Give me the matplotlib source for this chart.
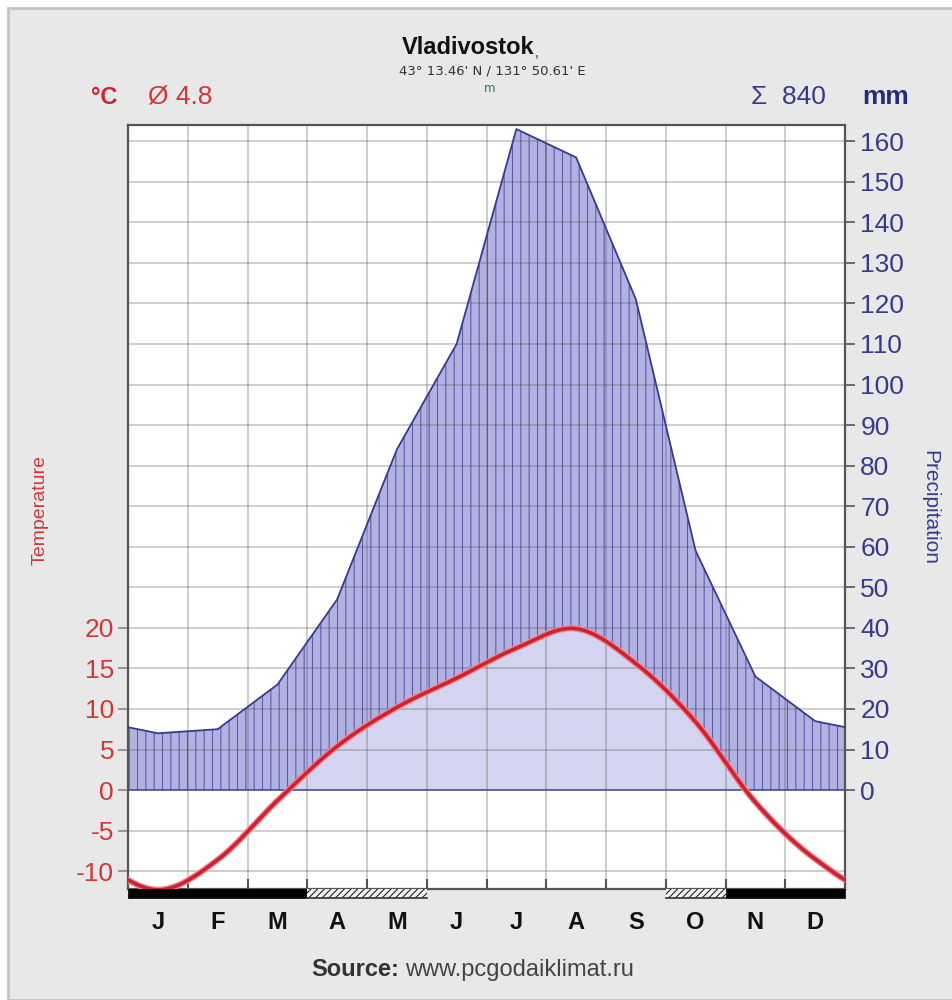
import numpy as np
import matplotlib
matplotlib.use('Agg')
import matplotlib.pyplot as plt
from matplotlib.patches import Rectangle

plt.rcParams['font.family'] = ['Liberation Sans', 'DejaVu Sans']
plt.rcParams['hatch.linewidth'] = 0.8

# Monthly climate values for Vladivostok
months = ['J', 'F', 'M', 'A', 'M', 'J', 'J', 'A', 'S', 'O', 'N', 'D']
temp_c = [-12.3, -8.6, -1.3, 5.4, 10.2, 13.8, 17.5, 19.9, 15.6, 8.4, -1.5, -8.5]
precip_mm = [14, 15, 26, 47, 84, 110, 163, 156, 121, 59, 28, 17]
# frost bar: 2 = certain frost, 1 = possible frost, 0 = none
frost = [2, 2, 2, 1, 1, 0, 0, 0, 0, 1, 2, 2]
temp_ticks = [-10, -5, 0, 5, 10, 15, 20]
precip_ticks = list(range(0, 161, 10))

RED = '#cc2233'
NAVY = '#3a3a8c'

n = len(months)
centers = np.arange(n) + 0.5
xs = np.linspace(0, n, 1201)


def smooth_periodic(vals, x):
    # Catmull-Rom spline through month centers, wrapping around the year
    v = np.asarray(vals, dtype=float)
    u = x - 0.5
    i = np.floor(u).astype(int)
    t = u - i
    p0 = v[(i - 1) % n]
    p1 = v[i % n]
    p2 = v[(i + 1) % n]
    p3 = v[(i + 2) % n]
    return 0.5 * (2 * p1 + (-p0 + p2) * t + (2 * p0 - 5 * p1 + 4 * p2 - p3) * t ** 2
                  + (-p0 + 3 * p1 - 3 * p2 + p3) * t ** 3)


def linear_periodic(vals, x):
    xe = np.concatenate([[-0.5], centers, [n + 0.5]])
    ye = np.concatenate([[vals[-1]], vals, [vals[0]]])
    return np.interp(x, xe, ye)


t_curve = smooth_periodic(temp_c, xs) * 2  # 1 degC = 2 mm
p_curve = linear_periodic(precip_mm, xs)

fig = plt.figure(figsize=(9.52, 10), dpi=100)
fig.patch.set_facecolor('white')
fig.patches.append(Rectangle((8 / 952, 0), 1, 1 - 8 / 1000, transform=fig.transFigure,
                             facecolor='#e8e8e8', edgecolor='#c4c4c4', lw=2, zorder=-10))

ax = fig.add_axes([128 / 952, 1 - 889 / 1000, 717 / 952, 764 / 1000])
ax.set_facecolor('white')
ax.set_xlim(0, n)
ax.set_ylim(-24.4, 164)

# humid part: hatched darker lavender between temperature and precipitation
lower = np.maximum(t_curve, 0)
ax.fill_between(xs, lower, p_curve, where=p_curve >= lower, interpolate=True,
                facecolor='#b2b2e2', edgecolor='#5c5cac', hatch='||', linewidth=0, zorder=1)
# area under the temperature curve
ax.fill_between(xs, 0, np.minimum(t_curve, p_curve), where=t_curve > 0, interpolate=True,
                facecolor='#d4d4f0', linewidth=0, zorder=1)
ax.plot(xs, p_curve, color=NAVY, lw=1.3, zorder=3)

# grid
for v in range(n + 1):
    ax.axvline(v, color='#505050', alpha=0.28, lw=1.4, zorder=2)
for h in range(-20, 161, 10):
    ax.axhline(h, color='#505050', alpha=0.28, lw=1.4, zorder=2)
ax.axhline(0, color=NAVY, alpha=0.8, lw=1.2, zorder=2.2)

ax.plot(xs, t_curve, color='#f08888', lw=4.5, zorder=4, solid_capstyle='round')
ax.plot(xs, t_curve, color=RED, lw=2.6, zorder=5, solid_capstyle='round')

for s in ax.spines.values():
    s.set_color('#555555')
    s.set_linewidth(1.6)

# right axis: precipitation
ax.yaxis.tick_right()
ax.set_yticks(precip_ticks)
ax.set_yticklabels([str(p) for p in precip_ticks], color=NAVY, fontsize=19)
ax.tick_params(axis='y', direction='out', length=7, width=1.2, color='#555555', pad=4)

# left axis: temperature
sec = ax.secondary_yaxis('left', functions=(lambda mm: mm / 2, lambda c: c * 2))
sec.set_yticks(temp_ticks)
sec.set_yticklabels([str(t) for t in temp_ticks], color='#d03838', fontsize=19)
sec.tick_params(direction='out', length=7, width=1.2, color='#888888', pad=3)
sec.spines['left'].set_visible(False)

# month axis
ax.set_xticks(range(n + 1))
ax.set_xticklabels([])
ax.tick_params(axis='x', direction='in', length=7, width=1.5, color='#555555')
ax.set_xticks(centers, minor=True)
ax.set_xticklabels(months, minor=True, fontsize=17, fontweight='bold', color='#111111')
ax.tick_params(axis='x', which='minor', length=0, pad=16)

# frost bar under the axis
trans = ax.get_xaxis_transform()
bar_h = 9 / 764
for i, f in enumerate(frost):
    if f == 2:
        ax.add_patch(Rectangle((i, -bar_h), 1, bar_h, transform=trans, clip_on=False,
                               facecolor='black', edgecolor='black', lw=0.5, zorder=6))
    elif f == 1:
        ax.add_patch(Rectangle((i, -bar_h), 1, bar_h, transform=trans, clip_on=False,
                               facecolor='#f4f4f4', edgecolor='#222222', hatch='/////',
                               lw=0, zorder=6))
        ax.plot([i, i + 1], [-bar_h, -bar_h], transform=trans, clip_on=False,
                color='#333333', lw=1.2, zorder=6)

# header texts
fig.text(468 / 952, 1 - 48 / 1000, 'Vladivostok', ha='center', va='center',
         fontsize=17, fontweight='bold', color='#111111')
fig.text(535 / 952, 1 - 57 / 1000, ',', ha='left', va='baseline', fontsize=10, color='#333333')
fig.text(492 / 952, 1 - 71 / 1000, "43° 13.46' N / 131° 50.61' E", ha='center', va='center',
         fontsize=9.5, color='#333333', family='DejaVu Sans')
fig.text(490 / 952, 1 - 88 / 1000, 'm', ha='center', va='center', fontsize=8.5,
         color='#3a6a6a', family='DejaVu Sans')
fig.text(104 / 952, 1 - 97 / 1000, '°C', ha='center', va='center', fontsize=17,
         fontweight='bold', color=RED)
fig.text(148 / 952, 1 - 97 / 1000, 'Ø 4.8', ha='left', va='center', fontsize=19, color='#d03838')
fig.text(826 / 952, 1 - 97 / 1000, 'Σ  840', ha='right', va='center', fontsize=19, color=NAVY)
fig.text(886 / 952, 1 - 97 / 1000, 'mm', ha='center', va='center', fontsize=19,
         fontweight='bold', color='#2a2a78')

fig.text(40 / 952, 1 - 510 / 1000, 'Temperature', rotation=90, ha='center', va='center',
         fontsize=14, color='#d03838')
fig.text(930 / 952, 1 - 508 / 1000, 'Precipitation', rotation=270, ha='center', va='center',
         fontsize=15, color=NAVY)

fig.text(399 / 952, 1 - 970 / 1000, 'Source:', ha='right', va='center', fontsize=17,
         fontweight='bold', color='#333333')
fig.text(405 / 952, 1 - 970 / 1000, 'www.pcgodaiklimat.ru', ha='left', va='center',
         fontsize=17, color='#444444')

fig.savefig('out.png', dpi=100, facecolor=fig.get_facecolor())
